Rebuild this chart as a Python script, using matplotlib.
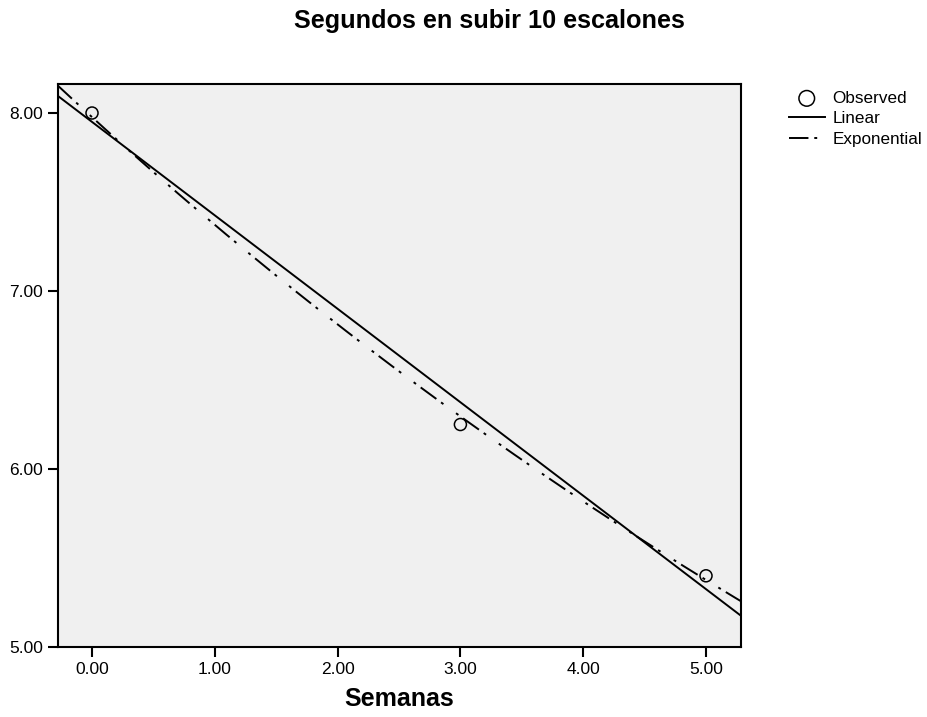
import numpy as np
import matplotlib.pyplot as plt

plt.rcParams['font.family'] = ['Liberation Sans', 'DejaVu Sans']

# observed data
semanas = np.array([0.0, 3.0, 5.0])
segundos = np.array([8.00, 6.25, 5.40])
xticks = [0.0, 1.0, 2.0, 3.0, 4.0, 5.0]
yticks = [5.0, 6.0, 7.0, 8.0]

# curve fits (linear and exponential) from the observed data
b1, b0 = np.polyfit(semanas, segundos, 1)
e1, e0 = np.polyfit(semanas, np.log(segundos), 1)
xs = np.linspace(-0.28, 5.29, 200)

fig = plt.figure(figsize=(9.28, 7.17), dpi=100)
ax = fig.add_axes([58/928, 1-647/717, (741-58)/928, (647-84)/717])
ax.set_facecolor('#f0f0f0')

ax.plot(xs, b0 + b1*xs, color='black', lw=1.4, label='Linear')
ax.plot(xs, np.exp(e0)*np.exp(e1*xs), color='black', lw=1.4,
        linestyle=(0, (10, 3, 1.5, 8, 1.5, 3)), label='Exponential')
ax.scatter(semanas, segundos, s=75, facecolors='none', edgecolors='black',
           linewidths=1.1, zorder=3, label='Observed')

ax.set_xlim(-0.277, 5.285)
ax.set_ylim(5.0, 8.163)
ax.set_xticks(xticks)
ax.set_xticklabels(['%.2f' % t for t in xticks])
ax.set_yticks(yticks)
ax.set_yticklabels(['%.2f' % t for t in yticks])
ax.tick_params(direction='out', length=7, width=1.5, labelsize=12.5, colors='black', pad=4)
for s in ax.spines.values():
    s.set_linewidth(1.5)

ax.set_xlabel('Semanas', fontsize=18, fontweight='bold', labelpad=7)
fig.text(489/928, 1-28/717, 'Segundos en subir 10 escalones', fontsize=18.2,
         fontweight='bold', ha='center', va='baseline')

h, l = ax.get_legend_handles_labels()
order = [2, 0, 1]
ax.legend([h[i] for i in order], [l[i] for i in order], loc='upper left',
          bbox_to_anchor=(1.06, 1.0), frameon=False, fontsize=12.3,
          handlelength=2.1, handletextpad=0.45, labelspacing=0.32, borderaxespad=0,
          markerscale=1.3)

fig.savefig('out.png', dpi=100)
